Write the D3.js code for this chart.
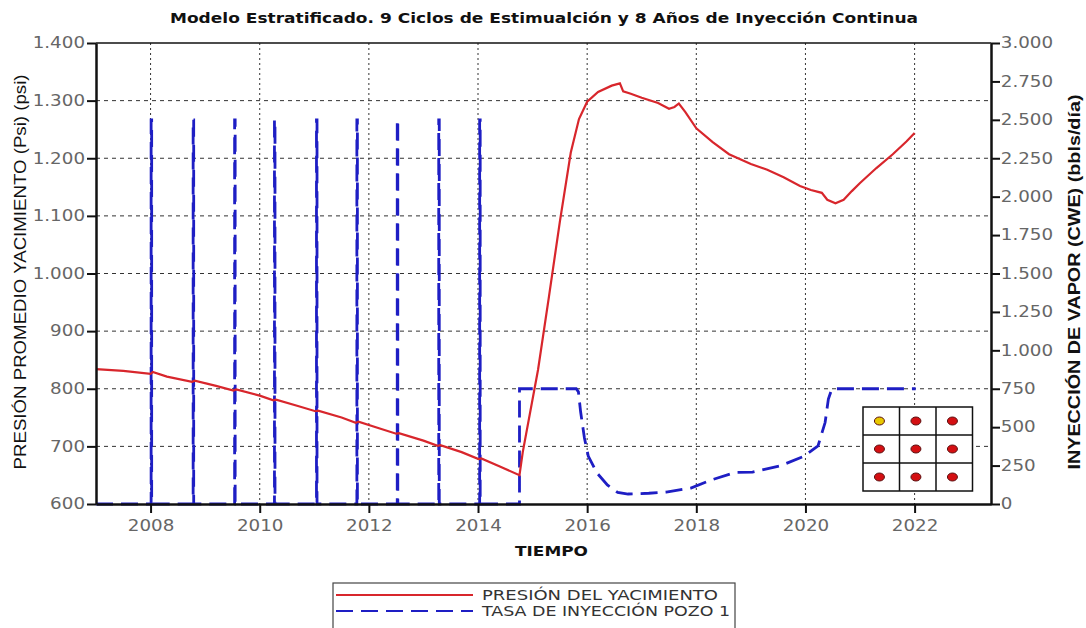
<!DOCTYPE html>
<html>
<head>
<meta charset="utf-8">
<script src="https://cdn.jsdelivr.net/npm/d3@7/dist/d3.min.js"></script>
<style>
  html, body { margin: 0; padding: 0; background: #fff; }
  svg { display: block; font-family: "Liberation Sans", Arial, sans-serif; }
</style>
</head>
<body>
<svg id="chart" width="1086" height="628"></svg>
<script>
// Reservoir pressure (psi) by decimal year
const pressure = [
  [2007.0, 834], [2007.5, 831], [2008.0, 826], [2008.04, 829], [2008.3, 821],
  [2008.76, 812], [2008.81, 814], [2009.2, 805], [2009.52, 797], [2009.57, 799],
  [2010.0, 788], [2010.25, 780], [2010.3, 781], [2010.7, 770], [2011.02, 761],
  [2011.07, 762], [2011.5, 750], [2011.76, 741], [2011.81, 743], [2012.2, 731],
  [2012.5, 722], [2012.55, 723], [2013.0, 710], [2013.26, 701], [2013.31, 702],
  [2013.7, 690], [2014.01, 678], [2014.06, 679], [2014.4, 665], [2014.76, 650],
  [2014.82, 690], [2015.1, 833], [2015.3, 960], [2015.5, 1090], [2015.7, 1210],
  [2015.85, 1268], [2016.0, 1298], [2016.2, 1315], [2016.45, 1326], [2016.6, 1330],
  [2016.66, 1316], [2016.8, 1312], [2017.0, 1305], [2017.3, 1296], [2017.5, 1286],
  [2017.6, 1289], [2017.68, 1295], [2017.8, 1280], [2018.0, 1252], [2018.3, 1228],
  [2018.6, 1207], [2019.0, 1190], [2019.3, 1180], [2019.6, 1167], [2019.9, 1152],
  [2020.1, 1145], [2020.3, 1140], [2020.4, 1128], [2020.55, 1122], [2020.7, 1128],
  [2020.85, 1143], [2021.0, 1157], [2021.3, 1183], [2021.6, 1207], [2021.85, 1229],
  [2022.0, 1244]
];

// Steam injection rate, well 1 (bbls/día CWE): 9 stimulation cycles, then continuous
const injection = [
  [2007.0, 0],
  [2008.01, 0], [2008.01, 2500], [2008.02, 2500], [2008.02, 0],
  [2008.78, 0], [2008.78, 2500], [2008.79, 2500], [2008.79, 0],
  [2009.54, 0], [2009.54, 2500], [2009.55, 2500], [2009.55, 0],
  [2010.27, 0], [2010.27, 2500], [2010.28, 2500], [2010.28, 0],
  [2011.04, 0], [2011.04, 2500], [2011.05, 2500], [2011.05, 0],
  [2011.78, 0], [2011.78, 2500], [2011.79, 2500], [2011.79, 0],
  [2012.52, 0], [2012.52, 2500], [2012.53, 2500], [2012.53, 0],
  [2013.28, 0], [2013.28, 2500], [2013.29, 2500], [2013.29, 0],
  [2014.03, 0], [2014.03, 2500], [2014.04, 2500], [2014.04, 0],
  [2014.76, 0], [2014.76, 750], [2015.8, 750], [2015.84, 730],
  [2015.88, 600], [2015.95, 430], [2016.02, 312], [2016.18, 202],
  [2016.37, 124], [2016.56, 75], [2016.75, 65], [2017.13, 70],
  [2017.45, 78], [2017.9, 104], [2018.27, 156], [2018.71, 205],
  [2019.03, 208], [2019.53, 247], [2019.98, 312], [2020.23, 378],
  [2020.36, 530], [2020.42, 683], [2020.48, 745], [2020.55, 750],
  [2022.02, 750]
];

const xTicks = [2008, 2010, 2012, 2014, 2016, 2018, 2020, 2022];
const leftTicks = [600, 700, 800, 900, 1000, 1100, 1200, 1300, 1400];
const rightTicks = [0, 250, 500, 750, 1000, 1250, 1500, 1750, 2000, 2250, 2500, 2750, 3000];

// 3x3 well pattern inset: row, column, type
const wells = [
  [0, 0, "iny"], [0, 1, "prod"], [0, 2, "prod"],
  [1, 0, "prod"], [1, 1, "prod"], [1, 2, "prod"],
  [2, 0, "prod"], [2, 1, "prod"], [2, 2, "prod"]
];

const title = "Modelo Estratificado. 9 Ciclos de Estimualción y 8 Años de Inyección Continua";
const legendItems = [
  { label: "PRESIÓN DEL YACIMIENTO", color: "#d8262c", dash: null, len: 236 },
  { label: "TASA DE INYECCIÓN POZO 1", color: "#1e1ec4", dash: "17,8", len: 248 }
];

const svg = d3.select("#chart");
const m = { left: 96, right: 991, top: 43, bottom: 504 };
const WIDE = "'DejaVu Sans', Verdana, sans-serif";
const SX = 1.22; // horizontal stretch of tick labels

const x = d3.scaleLinear().domain([2007, 2023.4]).range([m.left, m.right]);
const yL = d3.scaleLinear().domain([600, 1400]).range([m.bottom, m.top]);
const yR = d3.scaleLinear().domain([0, 3000]).range([m.bottom, m.top]);

const loc = d3.formatLocale({ decimal: ",", thousands: ".", grouping: [3], currency: ["", ""] });
const fmt = loc.format(",d");

// Title
svg.append("text")
  .attr("x", 170).attr("y", 23)
  .attr("font-family", WIDE)
  .attr("font-size", 13.5).attr("font-weight", "bold").attr("fill", "#111")
  .attr("textLength", 748).attr("lengthAdjust", "spacingAndGlyphs")
  .text(title);

// Grid
const grid = svg.append("g");
grid.selectAll("line.h").data(leftTicks.filter(d => d > 600 && d < 1400)).join("line")
  .attr("x1", m.left).attr("x2", m.right)
  .attr("y1", d => yL(d)).attr("y2", d => yL(d))
  .attr("stroke", "#333").attr("stroke-width", 1).attr("stroke-dasharray", "4,4");
grid.selectAll("line.v").data(xTicks).join("line")
  .attr("x1", d => x(d)).attr("x2", d => x(d))
  .attr("y1", m.top).attr("y2", m.bottom)
  .attr("stroke", "#333").attr("stroke-width", 1).attr("stroke-dasharray", "2,3");

// Inset well pattern
const inset = { x: 863, y: 407, cw: 36.5, ch: 28 };
const ig = svg.append("g");
ig.append("rect")
  .attr("x", inset.x).attr("y", inset.y)
  .attr("width", inset.cw * 3).attr("height", inset.ch * 3)
  .attr("fill", "#fff").attr("stroke", "#111").attr("stroke-width", 1.5);
[1, 2].forEach(i => {
  ig.append("line").attr("x1", inset.x + inset.cw * i).attr("x2", inset.x + inset.cw * i)
    .attr("y1", inset.y).attr("y2", inset.y + inset.ch * 3).attr("stroke", "#111").attr("stroke-width", 1.5);
  ig.append("line").attr("y1", inset.y + inset.ch * i).attr("y2", inset.y + inset.ch * i)
    .attr("x1", inset.x).attr("x2", inset.x + inset.cw * 3).attr("stroke", "#111").attr("stroke-width", 1.5);
});
ig.selectAll("ellipse").data(wells).join("ellipse")
  .attr("cx", d => inset.x + inset.cw * (d[1] + 0.45))
  .attr("cy", d => inset.y + inset.ch * (d[0] + 0.5))
  .attr("rx", 5).attr("ry", 4)
  .attr("fill", d => d[2] === "iny" ? "#e8c800" : "#d40f12")
  .attr("stroke", "#5a1010").attr("stroke-width", 1);

// Series
const lineR = d3.line().x(d => x(d[0])).y(d => yR(d[1]));
const lineL = d3.line().x(d => x(d[0])).y(d => yL(d[1]));

svg.append("path").datum(injection)
  .attr("d", lineR).attr("fill", "none")
  .attr("stroke", legendItems[1].color).attr("stroke-width", 2.8)
  .attr("stroke-dasharray", legendItems[1].dash);

svg.append("path").datum(pressure)
  .attr("d", lineL).attr("fill", "none")
  .attr("stroke", legendItems[0].color).attr("stroke-width", 2.2);

// Frame top
svg.append("line").attr("x1", m.left).attr("x2", m.right).attr("y1", m.top).attr("y2", m.top)
  .attr("stroke", "#111").attr("stroke-width", 1.5);

// Axes
function styleAxis(g) {
  g.select(".domain").attr("stroke", "#111").attr("stroke-width", 2.5);
  g.selectAll(".tick line").attr("stroke", "#111").attr("stroke-width", 2);
  g.selectAll(".tick text").attr("fill", "#666").attr("font-size", 15)
    .attr("font-family", WIDE)
    .attr("transform", `scale(${SX},1)`);
}

svg.append("g").attr("transform", `translate(0,${m.bottom})`)
  .call(d3.axisBottom(x).tickValues(xTicks).tickFormat(d3.format("d")).tickSize(9).tickPadding(7).tickSizeOuter(0))
  .call(styleAxis);

svg.append("g").attr("transform", `translate(${m.left},0)`)
  .call(d3.axisLeft(yL).tickValues(leftTicks).tickFormat(fmt).tickSize(9).tickPadding(0).tickSizeOuter(0))
  .call(styleAxis);

svg.append("g").attr("transform", `translate(${m.right},0)`)
  .call(d3.axisRight(yR).tickValues(rightTicks).tickFormat(fmt).tickSize(9).tickPadding(-1).tickSizeOuter(0))
  .call(styleAxis);

// Axis titles
svg.append("text")
  .attr("transform", "translate(26,272) rotate(-90)")
  .attr("text-anchor", "middle").attr("font-size", 16.5).attr("fill", "#111")
  .attr("textLength", 395).attr("lengthAdjust", "spacingAndGlyphs")
  .text("PRESIÓN PROMEDIO YACIMIENTO (Psi) (psi)");

svg.append("text")
  .attr("transform", "translate(1080,282) rotate(-90)")
  .attr("text-anchor", "middle").attr("font-size", 17).attr("font-weight", "bold").attr("fill", "#111")
  .attr("textLength", 375).attr("lengthAdjust", "spacingAndGlyphs")
  .text("INYECCIÓN DE VAPOR (CWE) (bbls/día)");

svg.append("text")
  .attr("x", 515).attr("y", 556)
  .attr("font-size", 14).attr("font-weight", "bold").attr("fill", "#111")
  .attr("font-family", WIDE)
  .attr("textLength", 73).attr("lengthAdjust", "spacingAndGlyphs")
  .text("TIEMPO");

// Legend
const lg = svg.append("g");
lg.append("rect").attr("x", 333).attr("y", 583).attr("width", 402).attr("height", 50)
  .attr("fill", "#fff").attr("stroke", "#444").attr("stroke-width", 1.2);
legendItems.forEach((d, i) => {
  const yy = 595 + i * 16;
  lg.append("line").attr("x1", 336).attr("x2", 473).attr("y1", yy).attr("y2", yy)
    .attr("stroke", d.color).attr("stroke-width", 2.2)
    .attr("stroke-dasharray", d.dash);
  lg.append("text").attr("x", 482).attr("y", yy + 5)
    .attr("font-family", WIDE)
    .attr("font-size", 14).attr("fill", "#333")
    .attr("textLength", d.len).attr("lengthAdjust", "spacingAndGlyphs")
    .text(d.label);
});
</script>
</body>
</html>
